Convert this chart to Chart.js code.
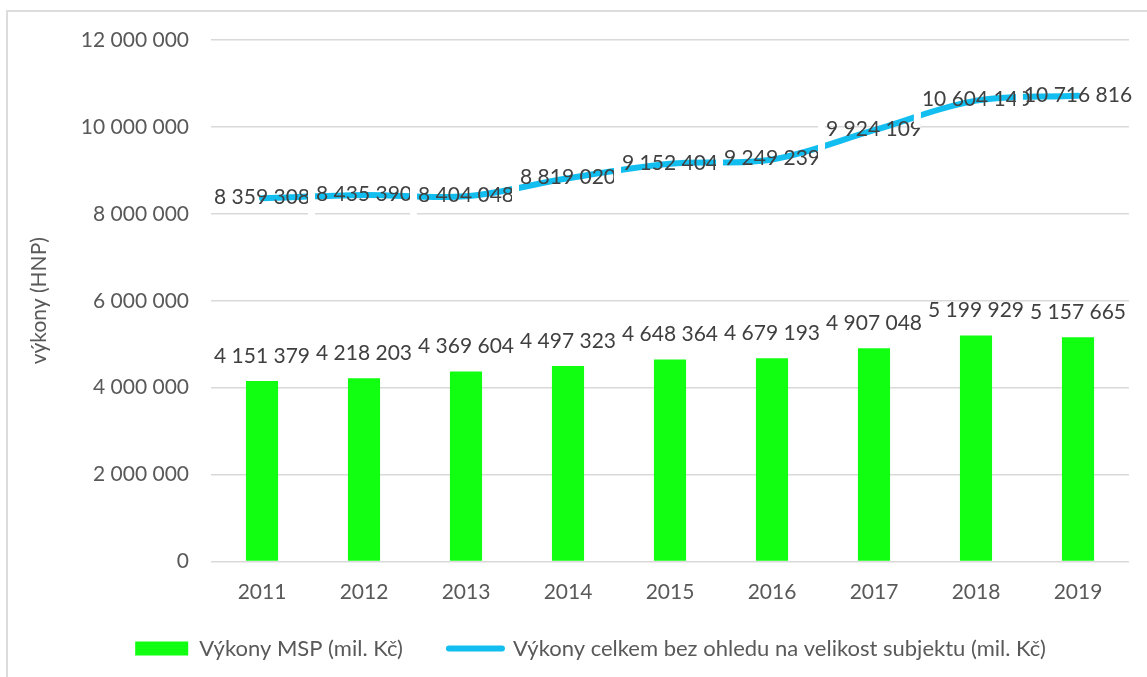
<!DOCTYPE html>
<html>
<head>
<meta charset="utf-8">
<title>Výkony MSP</title>
<script src="https://cdn.jsdelivr.net/npm/chart.js@4/dist/chart.umd.min.js"></script>
<style>
  html, body { margin: 0; padding: 0; background: #fff; }
  #wrap { position: relative; width: 1147px; height: 677px; overflow: hidden; }
  #frame { position: absolute; left: 6px; top: 10px; width: 1200px; height: 720px; border: 2px solid #dcdcdc; box-sizing: border-box; }
  #vykonyChart { position: absolute; left: 0; top: 0; }
</style>
</head>
<body>
<div id="wrap">
  <div id="frame"></div>
  <canvas id="vykonyChart" width="1147" height="677"></canvas>
</div>
<script>
// data
const years = ['2011', '2012', '2013', '2014', '2015', '2016', '2017', '2018', '2019'];
const vykonyMSP = [4151379, 4218203, 4369604, 4497323, 4648364, 4679193, 4907048, 5199929, 5157665];
const vykonyCelkem = [8359308, 8435390, 8404048, 8819020, 9152404, 9249239, 9924109, 10604140, 10716816];
const yMin = 0;
const yMax = 12000000;
const yStep = 2000000;

const fontFamily = 'Lato, "Open Sans", sans-serif';
const green = '#11FF11';
const blue = '#12BEF0';

// 12000000 -> "12 000 000"
function fmt(n) {
  return String(n).replace(/\B(?=(\d{3})+(?!\d))/g, ' ');
}

// data labels: text above the bars, text on the line points
// (each line label clears a thin white strip on its left, as Excel does)
const dataLabels = {
  id: 'dataLabels',
  afterDatasetsDraw(chart) {
    const ctx = chart.ctx;
    ctx.save();
    ctx.font = '21px ' + fontFamily;
    ctx.textAlign = 'center';

    chart.getDatasetMeta(0).data.forEach((bar, i) => {
      ctx.fillStyle = '#404040';
      ctx.textBaseline = 'alphabetic';
      ctx.fillText(fmt(vykonyMSP[i]), bar.x, bar.y - 18.5);
    });

    chart.getDatasetMeta(1).data.forEach((pt, i) => {
      const txt = fmt(vykonyCelkem[i]);
      const w = ctx.measureText(txt).width;
      if (i > 0) {
        ctx.fillStyle = '#fff';
        ctx.fillRect(pt.x - w / 2 - 8, pt.y - 14, 7, 41);
      }
      ctx.fillStyle = '#404040';
      ctx.textBaseline = 'middle';
      ctx.fillText(txt, pt.x, pt.y - 1);
    });
    ctx.restore();
  }
};

// put the legend where it sits in the original
const legendShift = {
  id: 'legendShift',
  afterLayout(chart) {
    const lg = chart.legend;
    lg.left += 26;
    lg.right += 26;
    lg.top -= 22;
    lg.bottom -= 22;
  }
};

const ctx = document.getElementById('vykonyChart').getContext('2d');
const vykonyChart = new Chart(ctx, {
  data: {
    labels: years,
    datasets: [{
      type: 'bar',
      label: 'Výkony MSP (mil. Kč)',
      data: vykonyMSP,
      backgroundColor: green,
      borderWidth: 0,
      barPercentage: 0.315,
      categoryPercentage: 1
    }, {
      type: 'line',
      label: 'Výkony celkem bez ohledu na velikost subjektu (mil. Kč)',
      data: vykonyCelkem,
      borderColor: blue,
      backgroundColor: blue,
      borderWidth: 6,
      borderCapStyle: 'round',
      tension: 0.35,
      pointRadius: 0,
      fill: false
    }]
  },
  options: {
    responsive: false,
    animation: false,
    layout: { padding: { top: 40, right: 18, left: 0, bottom: -14.5 } },
    scales: {
      x: {
        grid: { display: false, drawTicks: false },
        border: { display: false },
        ticks: { color: '#595959', font: { family: fontFamily, size: 21 }, padding: 18 },
        afterFit(scale) { scale.height = 52; }
      },
      y: {
        min: yMin,
        max: yMax,
        ticks: {
          stepSize: yStep,
          color: '#595959',
          font: { family: fontFamily, size: 21 },
          padding: 22,
          callback: v => fmt(v)
        },
        grid: { color: '#d9d9d9', lineWidth: 1.5, drawTicks: false },
        border: { display: false },
        title: {
          display: true,
          text: 'výkony (HNP)',
          color: '#595959',
          font: { family: fontFamily, size: 21 },
          padding: { top: 27, bottom: 0 }
        },
        afterFit(scale) { scale.width = 211; }
      }
    },
    plugins: {
      legend: {
        position: 'bottom',
        labels: {
          usePointStyle: true,
          pointStyleWidth: 53,
          boxHeight: 14,
          padding: 46,
          color: '#595959',
          font: { family: fontFamily, size: 22 },
          generateLabels(chart) {
            const items = Chart.defaults.plugins.legend.labels.generateLabels(chart);
            items[0].pointStyle = 'rect';
            items[0].lineWidth = 0;
            items[1].pointStyle = 'line';
            items[1].lineWidth = 6;
            items[1].lineCap = 'round';
            return items;
          }
        }
      },
      tooltip: { enabled: false }
    }
  },
  plugins: [dataLabels, legendShift]
});
</script>
</body>
</html>
